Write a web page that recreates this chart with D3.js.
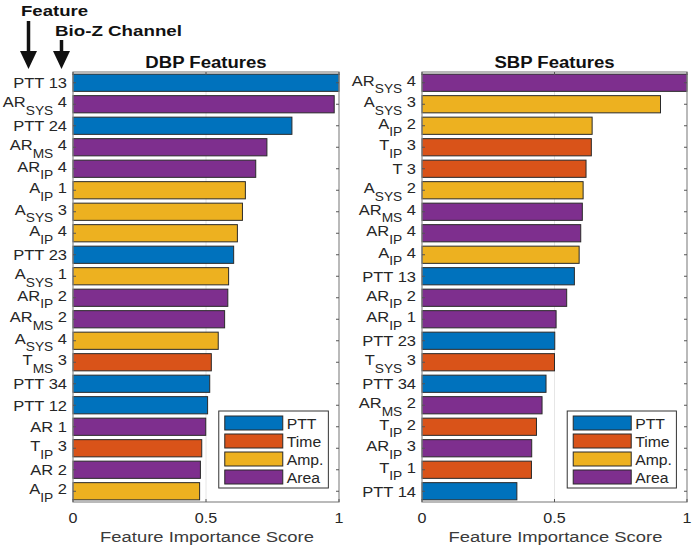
<!DOCTYPE html>
<html><head><meta charset="utf-8">
<script src="https://cdn.jsdelivr.net/npm/d3@7"></script>
<style>body{margin:0;background:#fff}svg{display:block}text{font-family:"Liberation Sans",Arial,sans-serif}</style>
</head><body>
<svg id="c" width="696" height="552"></svg>
<script>
const categoryColors = {PTT:"#0072BD", Time:"#D95319", "Amp.":"#EDB120", Area:"#7E2F8E"};
const legendItems = ["PTT","Time","Amp.","Area"];
const xTicks = [0, 0.5, 1];
const xTickLabels = ["0","0.5","1"];

const dbpLabels = ["PTT 13","AR_{SYS} 4","PTT 24","AR_{MS} 4","AR_{IP} 4","A_{IP} 1","A_{SYS} 3","A_{IP} 4","PTT 23","A_{SYS} 1","AR_{IP} 2","AR_{MS} 2","A_{SYS} 4","T_{MS} 3","PTT 34","PTT 12","AR 1","T_{IP} 3","AR 2","A_{IP} 2"];
const dbpValues = [1.0,0.982,0.823,0.729,0.687,0.648,0.637,0.618,0.604,0.585,0.582,0.570,0.546,0.520,0.514,0.506,0.499,0.484,0.479,0.476];
const dbpTypes = ["PTT","Area","PTT","Area","Area","Amp.","Amp.","Amp.","PTT","Amp.","Area","Area","Amp.","Time","PTT","PTT","Area","Time","Area","Amp."];

const sbpLabels = ["AR_{SYS} 4","A_{SYS} 3","A_{IP} 2","T_{IP} 3","T 3","A_{SYS} 2","AR_{MS} 4","AR_{IP} 4","A_{IP} 4","PTT 13","AR_{IP} 2","AR_{IP} 1","PTT 23","T_{SYS} 3","PTT 34","AR_{MS} 2","T_{IP} 2","AR_{IP} 3","T_{IP} 1","PTT 14"];
const sbpValues = [1.0,0.900,0.642,0.639,0.619,0.608,0.605,0.599,0.593,0.575,0.546,0.506,0.501,0.500,0.468,0.453,0.432,0.414,0.413,0.358];
const sbpTypes = ["Area","Amp.","Amp.","Time","Time","Amp.","Area","Area","Amp.","PTT","Area","Area","PTT","Time","PTT","Area","Time","Area","Time","PTT"];

const svg = d3.select("#c");
const txt = "#262626";

function stext(parent, x, y, sx, size) {
  return parent.append("text").attr("transform", `translate(${x},${y}) scale(${sx},1)`)
    .attr("font-size", size).attr("fill", txt);
}

function panel(x0, x1, title, labels, values, types) {
  const top = 72, bottom = 502;
  const x = d3.scaleLinear().domain([0,1]).range([x0, x1]);
  const idx = d3.range(labels.length);
  const y = d3.scaleBand().domain(idx).range([top, bottom]).paddingInner(0.2).paddingOuter(0.1);
  const g = svg.append("g");
  g.append("line").attr("x1", x(0.5)).attr("x2", x(0.5)).attr("y1", top).attr("y2", bottom)
    .attr("stroke", "#e6e6e6").attr("stroke-width", 1);
  g.selectAll("rect.bar").data(idx).enter().append("rect").attr("class","bar")
    .attr("x", x(0)).attr("y", i => y(i))
    .attr("width", i => x(values[i]) - x(0)).attr("height", y.bandwidth())
    .attr("fill", i => categoryColors[types[i]]).attr("stroke", "#2a2a2a").attr("stroke-width", 1);
  g.append("rect").attr("x", x0).attr("y", top).attr("width", x1 - x0).attr("height", bottom - top)
    .attr("fill", "none").attr("stroke", "#8c8c8c").attr("stroke-width", 1.2);
  idx.forEach(i => {
    const cy = y(i) + y.bandwidth()/2;
    g.append("line").attr("x1", x0).attr("x2", x0+3).attr("y1", cy).attr("y2", cy).attr("stroke","#555");
    g.append("line").attr("x1", x1).attr("x2", x1-3).attr("y1", cy).attr("y2", cy).attr("stroke","#555");
  });
  xTicks.forEach(t => {
    g.append("line").attr("x1", x(t)).attr("x2", x(t)).attr("y1", top).attr("y2", top+3).attr("stroke","#555");
    g.append("line").attr("x1", x(t)).attr("x2", x(t)).attr("y1", bottom).attr("y2", bottom-3).attr("stroke","#555");
  });
  xTicks.forEach((t, i) => {
    stext(g, x(t), 523, 1.15, 14).attr("text-anchor","middle").text(xTickLabels[i]);
  });
  stext(g, (x0+x1)/2 + 1, 542, 1.27, 14.5).attr("text-anchor","middle").attr("fill","#3a3a3a").text("Feature Importance Score");
  stext(g, (x0+x1)/2, 68, 1.16, 16).attr("text-anchor","middle").attr("font-weight","bold").attr("fill","#111").text(title);
  idx.forEach(i => {
    const cy = y(i) + y.bandwidth()/2;
    const m = labels[i].match(/^([A-Za-z]+)(?:_\{([A-Z]+)\})?\s(\d+)$/);
    const t = stext(g, x0 - 6, m[2] ? cy + 3 : cy + 5.5, 1.1, 15).attr("text-anchor","end");
    if (m[2]) {
      t.append("tspan").text(m[1]);
      t.append("tspan").attr("dy", 7.5).attr("font-size", 12.5).text(m[2]);
      t.append("tspan").attr("dy", -7.5).text("\u00a0" + m[3]);
    } else {
      t.append("tspan").text(m[1] + " " + m[3]);
    }
  });
  const lx = x(0.548), ly = 411, lw = x(0.96) - x(0.548), lh = 77;
  const lg = g.append("g");
  lg.append("rect").attr("x", lx).attr("y", ly).attr("width", lw).attr("height", lh)
    .attr("fill", "#fff").attr("stroke", "#333").attr("stroke-width", 1);
  legendItems.forEach((k, j) => {
    const ry = ly + 5 + j * 18;
    lg.append("rect").attr("x", lx + 6).attr("y", ry).attr("width", 58).attr("height", 14)
      .attr("fill", categoryColors[k]).attr("stroke", "#2a2a2a");
    stext(lg, lx + 68, ry + 12.5, 1.05, 15).text(k);
  });
}

panel(73, 339, "DBP Features", dbpLabels, dbpValues, dbpTypes);
panel(422, 687, "SBP Features", sbpLabels, sbpValues, sbpTypes);

stext(svg, 21, 15.5, 1.24, 15).attr("font-weight","bold").attr("fill","#111").text("Feature");
stext(svg, 55, 36, 1.21, 15.5).attr("font-weight","bold").attr("fill","#111").text("Bio-Z Channel");
function arrow(x, y1, y2) {
  svg.append("line").attr("x1", x).attr("x2", x).attr("y1", y1).attr("y2", y2 - 12).attr("stroke","#111").attr("stroke-width", 3.5);
  svg.append("path").attr("d", `M${x-8.5},${y2-18} L${x+8.5},${y2-18} L${x},${y2} Z`).attr("fill","#111");
}
arrow(28.5, 21, 69);
arrow(61.5, 40, 69);
</script>
</body></html>
